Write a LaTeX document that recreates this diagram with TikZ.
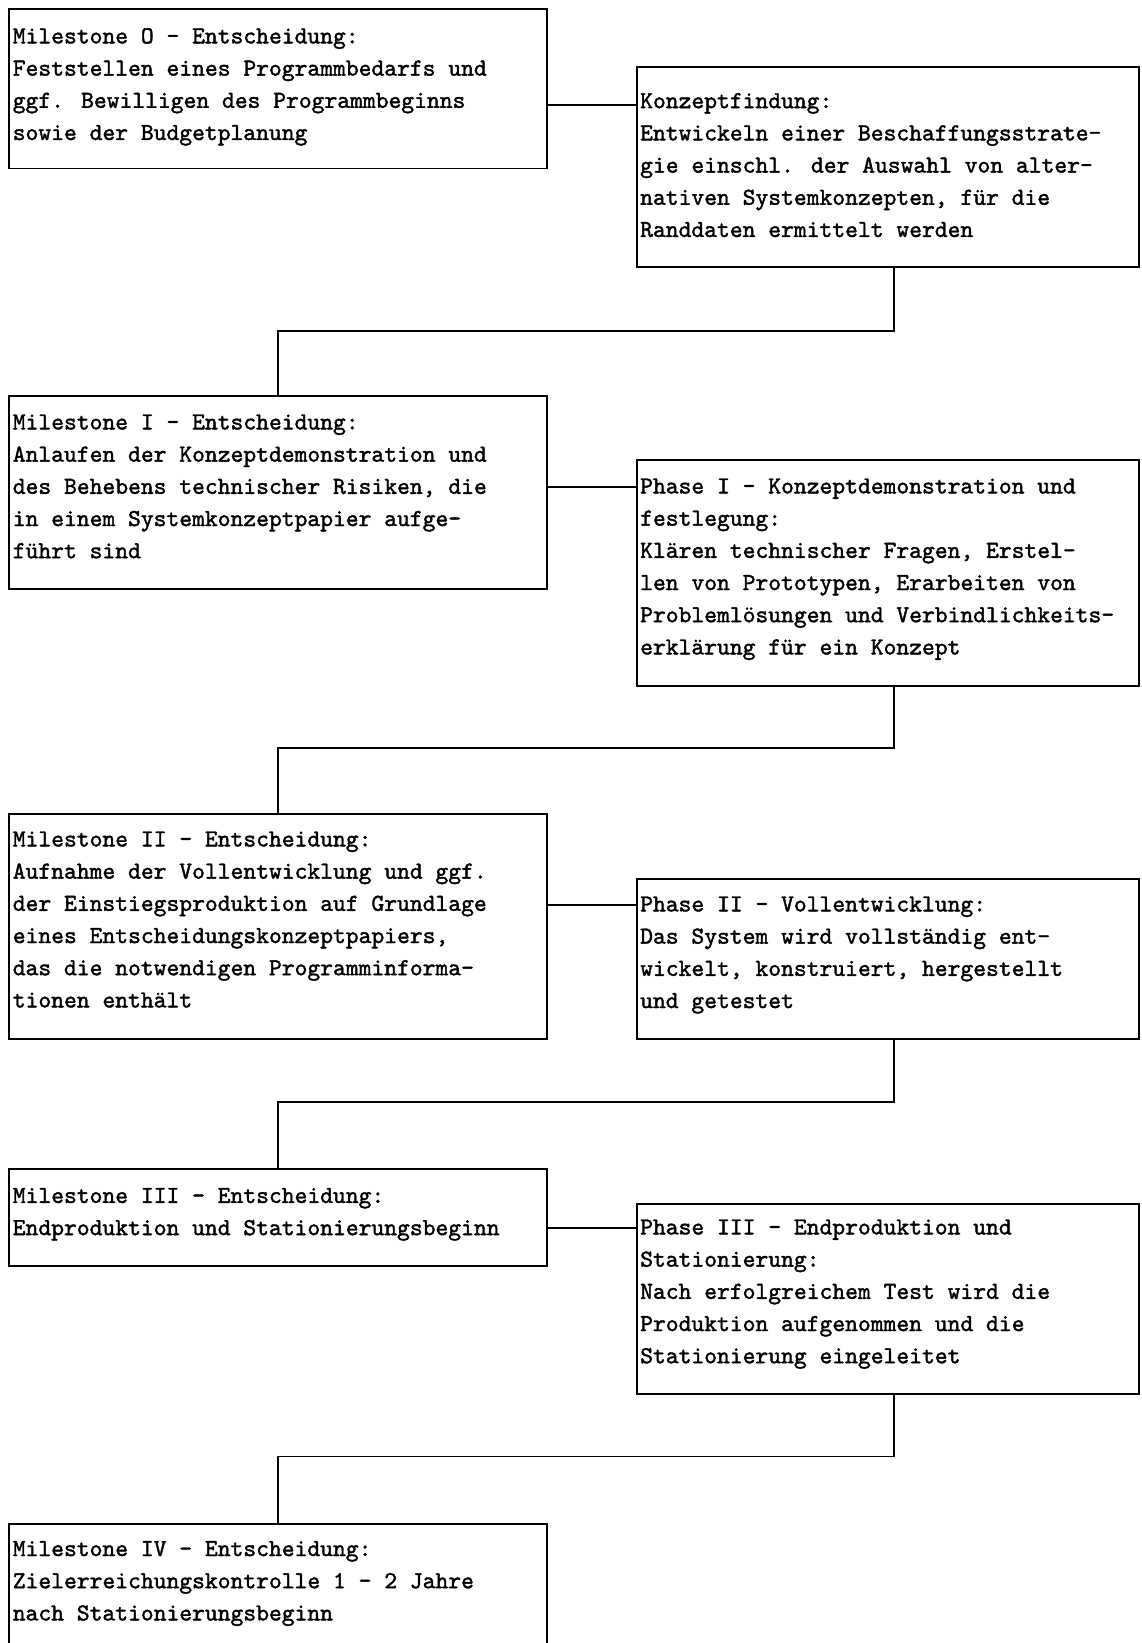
\documentclass[tikz,border=0pt]{standalone}
\usepackage{fontspec}
\newfontfamily\twfont{lmmono10-regular.otf}[FakeBold=1.6]
\begin{document}
\begin{tikzpicture}[x=1pt,y=-1pt,
  box/.style={draw, line width=1.8pt, inner sep=0pt, anchor=north west},
  mbox/.style={box, minimum width=537.6pt},
  pbox/.style={box, minimum width=502pt},
  txt/.style={anchor=north west, inner sep=0pt, align=left,
    font=\fontsize{24.4}{32.2}\selectfont\twfont},
  conn/.style={line width=1.6pt}]
\clip (0,0) rectangle (1142,1643);
\fill[white] (0,0) rectangle (1142,1643);

% boxes
\node[mbox, minimum height=159.2pt] (m0) at (8.4,8.4) {};
\node[pbox, minimum height=200pt] (k) at (636,66) {};
\node[mbox, minimum height=193pt] (m1) at (8.4,395) {};
\node[pbox, minimum height=226pt] (p1) at (636,459) {};
\node[mbox, minimum height=225pt] (m2) at (8.4,813) {};
\node[pbox, minimum height=160pt] (p2) at (636,878) {};
\node[mbox, minimum height=97pt] (m3) at (8.4,1168) {};
\node[pbox, minimum height=190pt] (p3) at (636,1203) {};
\node[mbox, minimum height=160pt] (m4) at (8.4,1523) {};

% texts
\node[txt] (m0t) at (12.6,28) {Milestone O - Entscheidung:\\Feststellen eines Programmbedarfs und\\ggf. Bewilligen des Programmbeginns\\sowie der Budgetplanung};
\node[txt] (kt) at (640,92.9) {Konzeptfindung:\\Entwickeln einer Beschaffungsstrate-\\gie einschl. der Auswahl von alter-\\nativen Systemkonzepten, für die\\Randdaten ermittelt werden};
\node[txt] (m1t) at (12.6,414.3) {Milestone I - Entscheidung:\\Anlaufen der Konzeptdemonstration und\\des Behebens technischer Risiken, die\\in einem Systemkonzeptpapier aufge-\\führt sind};
\node[txt] (p1t) at (640,478.3) {Phase I - Konzeptdemonstration und\\festlegung:\\Klären technischer Fragen, Erstel-\\len von Prototypen, Erarbeiten von\\Problemlösungen und Verbindlichkeits-\\erklärung für ein Konzept};
\node[txt] (m2t) at (12.6,831.3) {Milestone II - Entscheidung:\\Aufnahme der Vollentwicklung und ggf.\\der Einstiegsproduktion auf Grundlage\\eines Entscheidungskonzeptpapiers,\\das die notwendigen Programminforma-\\tionen enthält};
\node[txt] (p2t) at (640,896.3) {Phase II - Vollentwicklung:\\Das System wird vollständig ent-\\wickelt, konstruiert, hergestellt\\und getestet};
\node[txt] (m3t) at (12.6,1187.8) {Milestone III - Entscheidung:\\Endproduktion und Stationierungsbeginn};
\node[txt] (p3t) at (640,1219.3) {Phase III - Endproduktion und\\Stationierung:\\Nach erfolgreichem Test wird die\\Produktion aufgenommen und die\\Stationierung eingeleitet};
\node[txt] (m4t) at (12.6,1540.9) {Milestone IV - Entscheidung:\\Zielerreichungskontrolle 1 - 2 Jahre\\nach Stationierungsbeginn};

% horizontal links
\coordinate (h0) at (0,104.8);
\coordinate (h1) at (0,487.2);
\coordinate (h2) at (0,905);
\coordinate (h3) at (0,1228);
\draw[conn] (m0.east |- h0) -- (k.west |- h0);
\draw[conn] (m1.east |- h1) -- (p1.west |- h1);
\draw[conn] (m2.east |- h2) -- (p2.west |- h2);
\draw[conn] (m3.east |- h3) -- (p3.west |- h3);

% down links
\coordinate (b1) at (894,331);
\coordinate (b2) at (894,748);
\coordinate (b3) at (894,1102);
\coordinate (b4) at (894,1456.3);
\draw[conn] (k.south -| b1) -- (b1) -| (m1.north);
\draw[conn] (p1.south -| b2) -- (b2) -| (m2.north);
\draw[conn] (p2.south -| b3) -- (b3) -| (m3.north);
\draw[conn] (p3.south -| b4) -- (b4) -| (m4.north);
\end{tikzpicture}
\end{document}
